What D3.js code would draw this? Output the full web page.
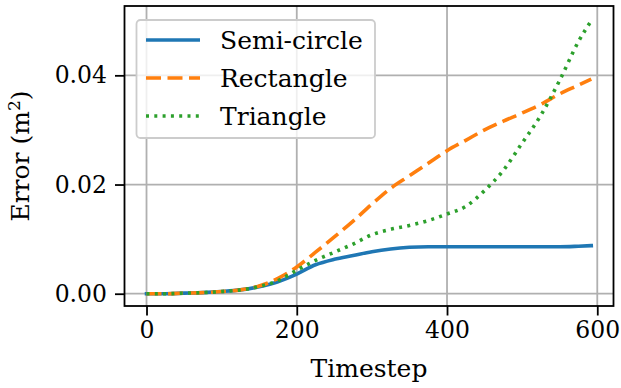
<!DOCTYPE html>
<html>
<head>
<meta charset="utf-8">
<script src="https://cdn.jsdelivr.net/npm/d3@7"></script>
<style>
  html, body { margin: 0; padding: 0; background: #fff; }
  svg { display: block; }
  text { font-family: "DejaVu Serif", serif; fill: #000; }
</style>
</head>
<body>
<div id="chart"></div>
<script>
// Error over time for three cross-section shapes
const timesteps = [0, 25, 50, 75, 100, 125, 150, 175, 200, 225, 250, 275, 300, 325, 350, 375, 400, 425, 450, 475, 500, 525, 550, 575, 592];
const semiCircle = [0, 0.0000, 0.0001, 0.0002, 0.0004, 0.0007, 0.0013, 0.0022, 0.0036, 0.0053, 0.0063, 0.0070, 0.0077, 0.0082, 0.0085, 0.0086, 0.0086, 0.0086, 0.0086, 0.0086, 0.0086, 0.0086, 0.0086, 0.0087, 0.0088];
const rectangle  = [0, 0.0000, 0.0001, 0.0002, 0.0004, 0.0007, 0.0014, 0.0028, 0.0049, 0.0076, 0.0104, 0.0133, 0.0164, 0.0193, 0.0216, 0.0239, 0.0262, 0.0281, 0.0300, 0.0316, 0.0331, 0.0347, 0.0366, 0.0382, 0.0393];
const triangle   = [0, 0.0000, 0.0001, 0.0002, 0.0004, 0.0007, 0.0013, 0.0024, 0.0043, 0.0061, 0.0076, 0.0091, 0.0108, 0.0118, 0.0125, 0.0134, 0.0146, 0.0160, 0.0189, 0.0226, 0.0276, 0.0327, 0.0391, 0.0462, 0.0500];

const seriesNames = ["Semi-circle", "Rectangle", "Triangle"];
const seriesValues = [semiCircle, rectangle, triangle];
const seriesColors = ["#1f77b4", "#ff7f0e", "#2ca02c"];
const seriesDashes = [null, "15,6.5", "3,5.3"];

const xTicks = [0, 200, 400, 600];
const yTicks = [0, 0.02, 0.04];

const W = 621, H = 388;
const plot = { left: 124.5, right: 613.5, top: 6, bottom: 306 };

const svg = d3.select("#chart").append("svg")
  .attr("width", W).attr("height", H);

const x = d3.scaleLinear().domain([-29.3, 621.6]).range([plot.left, plot.right]);
const y = d3.scaleLinear().domain([-0.00225, 0.0527]).range([plot.bottom, plot.top]);

// grid
const grid = svg.append("g").attr("stroke", "#b0b0b0").attr("stroke-width", 1.8);
grid.selectAll(".gx").data(xTicks).join("line")
  .attr("x1", d => x(d)).attr("x2", d => x(d))
  .attr("y1", plot.top).attr("y2", plot.bottom);
grid.selectAll(".gy").data(yTicks).join("line")
  .attr("y1", d => y(d)).attr("y2", d => y(d))
  .attr("x1", plot.left).attr("x2", plot.right);

// series
svg.append("clipPath").attr("id", "clip").append("rect")
  .attr("x", plot.left).attr("y", plot.top)
  .attr("width", plot.right - plot.left).attr("height", plot.bottom - plot.top);

const line = d3.line().curve(d3.curveMonotoneX)
  .x(d => x(d[0])).y(d => y(d[1]));

seriesValues.forEach((vals, i) => {
  svg.append("path")
    .attr("clip-path", "url(#clip)")
    .datum(timesteps.map((t, k) => [t, vals[k]]))
    .attr("d", line)
    .attr("fill", "none")
    .attr("stroke", seriesColors[i])
    .attr("stroke-width", 3.6)
    .attr("stroke-dasharray", seriesDashes[i])
    .attr("stroke-linecap", i === 0 ? "square" : "butt");
});

// axes
const tickFont = 23.5;
const xAxis = svg.append("g").attr("transform", `translate(0,${plot.bottom})`)
  .call(d3.axisBottom(x).tickValues(xTicks).tickSize(9.5).tickPadding(6).tickFormat(d3.format("d")));
const yAxis = svg.append("g").attr("transform", `translate(${plot.left},0)`)
  .call(d3.axisLeft(y).tickValues(yTicks).tickSize(9.5).tickPadding(8).tickFormat(d3.format(".2f")));
[xAxis, yAxis].forEach(a => {
  a.select(".domain").remove();
  a.selectAll(".tick line").attr("stroke", "#000").attr("stroke-width", 1.8);
  a.selectAll(".tick text").attr("font-size", tickFont).attr("font-family", "DejaVu Serif");
});

// frame
svg.append("rect")
  .attr("x", plot.left).attr("y", plot.top)
  .attr("width", plot.right - plot.left).attr("height", plot.bottom - plot.top)
  .attr("fill", "none").attr("stroke", "#000").attr("stroke-width", 1.8);

// axis labels
const labelFont = 25;
svg.append("text")
  .attr("x", (plot.left + plot.right) / 2).attr("y", 377)
  .attr("text-anchor", "middle").attr("font-size", labelFont)
  .text("Timestep");

const yl = svg.append("text")
  .attr("transform", `translate(29,${(plot.top + plot.bottom) / 2}) rotate(-90)`)
  .attr("text-anchor", "middle").attr("font-size", labelFont);
yl.append("tspan").text("Error (m");
yl.append("tspan").attr("font-size", 17).attr("dy", -9).text("2");
yl.append("tspan").attr("dy", 9).text(")");

// legend
const lg = svg.append("g");
lg.append("rect")
  .attr("x", 136.5).attr("y", 20).attr("width", 238.5).attr("height", 118)
  .attr("rx", 4).attr("ry", 4)
  .attr("fill", "#fff").attr("fill-opacity", 0.8)
  .attr("stroke", "#cccccc").attr("stroke-width", 1.8);
seriesNames.forEach((name, i) => {
  const cy = 40 + i * 38;
  lg.append("line")
    .attr("x1", 146).attr("x2", 200).attr("y1", cy).attr("y2", cy)
    .attr("stroke", seriesColors[i]).attr("stroke-width", 3.6)
    .attr("stroke-dasharray", seriesDashes[i]);
  lg.append("text")
    .attr("x", 220).attr("y", cy + 8.5)
    .attr("font-size", labelFont)
    .text(name);
});
</script>
</body>
</html>
